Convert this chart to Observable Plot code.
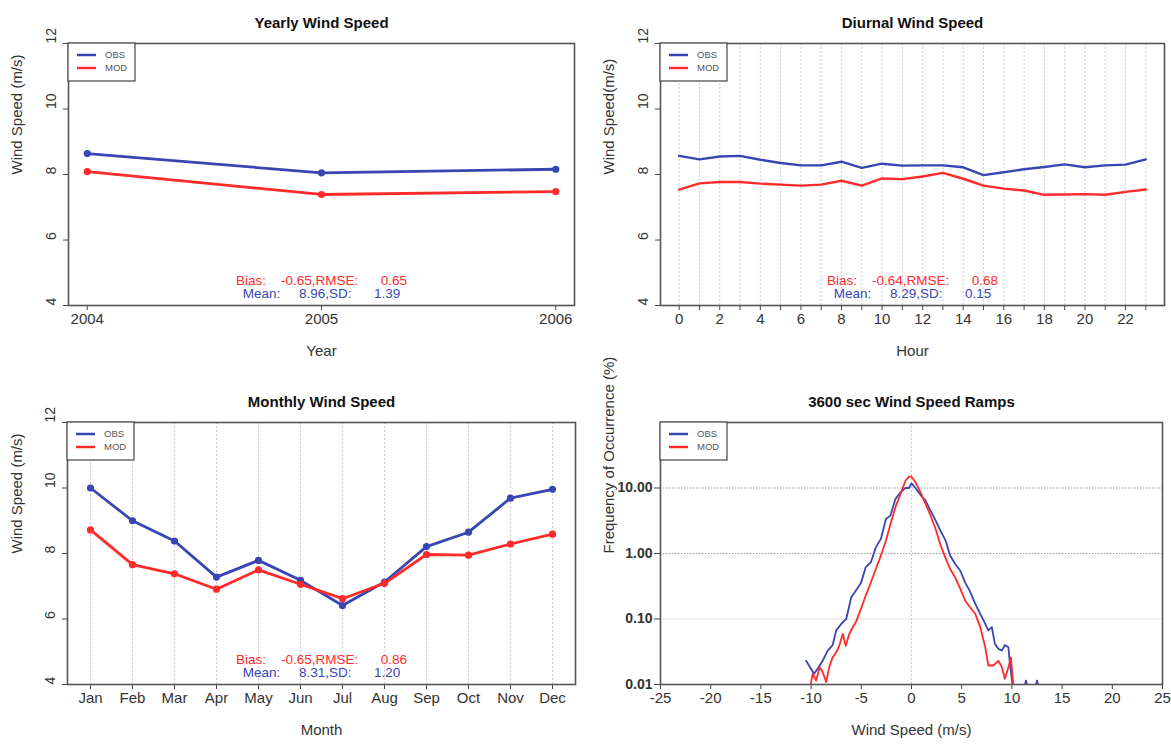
<!DOCTYPE html>
<html>
<head>
<meta charset="utf-8">
<script src="https://cdn.jsdelivr.net/npm/d3@7"></script>
<script src="https://cdn.jsdelivr.net/npm/@observablehq/plot@0.6"></script>
<style>
  body { margin: 0; background: #fff; }
  #chart { position: relative; width: 1171px; height: 746px; overflow: hidden; }
  .panel { position: absolute; }
  .panel svg text { white-space: pre; }
</style>
</head>
<body>
<div id="chart"></div>
<script>
// ---- series colours ----
const BLUE = "#3846b4";
const RED = "#ff2b2b";
const FONT = '"Liberation Sans", Arial, Helvetica, sans-serif';
const seriesNames = ["OBS", "MOD"];

// ---- yearly means ----
const years = [2004, 2005, 2006];
const yearlyObs = [8.64, 8.05, 8.16];
const yearlyMod = [8.09, 7.39, 7.48];
const yearlyStats = ["Bias:    -0.65,RMSE:      0.65", "Mean:     8.96,SD:      1.39"];

// ---- diurnal cycle ----
const hours = [0, 1, 2, 3, 4, 5, 6, 7, 8, 9, 10, 11, 12, 13, 14, 15, 16, 17, 18, 19, 20, 21, 22, 23];
const hourLabels = [0, 2, 4, 6, 8, 10, 12, 14, 16, 18, 20, 22];
const diurnalObs = [8.57, 8.46, 8.55, 8.57, 8.45, 8.35, 8.28, 8.28, 8.39, 8.20, 8.33, 8.27,
                    8.28, 8.28, 8.22, 7.98, 8.07, 8.16, 8.23, 8.31, 8.22, 8.28, 8.30, 8.46];
const diurnalMod = [7.54, 7.73, 7.77, 7.77, 7.72, 7.69, 7.66, 7.69, 7.81, 7.66, 7.88, 7.86,
                    7.94, 8.05, 7.87, 7.66, 7.57, 7.51, 7.38, 7.39, 7.40, 7.38, 7.47, 7.54];
const diurnalStats = ["Bias:    -0.64,RMSE:      0.68", "Mean:     8.29,SD:      0.15"];

// ---- monthly means ----
const months = ["Jan", "Feb", "Mar", "Apr", "May", "Jun", "Jul", "Aug", "Sep", "Oct", "Nov", "Dec"];
const monthlyObs = [10.0, 9.0, 8.38, 7.28, 7.79, 7.18, 6.41, 7.13, 8.21, 8.65, 9.69, 9.96];
const monthlyMod = [8.72, 7.66, 7.38, 6.91, 7.50, 7.06, 6.62, 7.09, 7.97, 7.95, 8.29, 8.59];
const monthlyStats = ["Bias:    -0.65,RMSE:      0.86", "Mean:     8.31,SD:      1.20"];

// ---- 3600 s ramp distribution ----
const rampObsSpeed = [-10.5, -9.7, -9.3, -8.85, -8.35, -7.85, -7.5, -7.0, -6.5, -6.0, -5.55, -5.05,
                      -4.55, -4.05, -3.55, -3.05, -2.55, -2.1, -1.6, -1.1, -0.6, -0.25, 0.0, 0.4,
                      0.9, 1.4, 1.9, 2.4, 2.9, 3.4, 3.85, 4.35, 4.85, 5.35, 5.85, 6.35, 6.85, 7.35,
                      7.65, 8.0, 8.3, 8.65, 9.0, 9.3, 9.65, 9.8, 10.05];
const rampObsFreq = [0.023, 0.0146, 0.0178, 0.023, 0.033, 0.040, 0.067, 0.084, 0.10, 0.215, 0.27, 0.35,
                     0.62, 0.73, 1.24, 1.67, 3.37, 3.79, 6.8, 8.6, 10.0, 10.0, 11.8, 10.0,
                     7.8, 6.4, 4.5, 3.2, 2.2, 1.57, 0.93, 0.69, 0.55, 0.36, 0.26, 0.17, 0.12, 0.084,
                     0.067, 0.075, 0.042, 0.035, 0.033, 0.040, 0.037, 0.021, 0.0102];
const rampModSpeed = [-10.05, -9.85, -9.5, -9.15, -8.85, -8.5, -8.2, -7.85, -7.5, -7.2, -6.85, -6.55,
                      -6.2, -5.85, -5.55, -5.05, -4.55, -4.05, -3.55, -3.05, -2.55, -2.1, -1.6, -1.1,
                      -0.6, -0.25, 0.0, 0.4, 0.9, 1.4, 1.9, 2.4, 2.85, 3.35, 3.85, 4.35, 4.85, 5.35,
                      5.85, 6.35, 6.85, 7.35, 7.65, 8.15, 8.65, 9.0, 9.3, 9.65, 9.9, 10.15];
const rampModFreq = [0.0097, 0.0146, 0.0115, 0.0184, 0.0155, 0.0109, 0.0184, 0.026, 0.031, 0.039, 0.059, 0.039,
                     0.059, 0.075, 0.089, 0.14, 0.23, 0.36, 0.58, 0.93, 1.57, 2.8, 5.1, 8.1,
                     12.9, 14.9, 14.9, 12.2, 8.6, 5.7, 3.8, 2.37, 1.4, 0.88, 0.58, 0.43, 0.29, 0.19,
                     0.15, 0.12, 0.075, 0.037, 0.0195, 0.0195, 0.023, 0.0184, 0.0122, 0.0184, 0.026, 0.0095];
// isolated blips just above the lower limit beyond +10 m/s
const rampObsTailSpeed = [11.2, 11.4, 11.6, 12.3, 12.5, 12.7];
const rampObsTailFreq = [0.0085, 0.0115, 0.0085, 0.0085, 0.0115, 0.0085];
const rampObsTailGroup = [1, 1, 1, 2, 2, 2];
const rampStats = [];

// ---- axis ticks ----
const speedTicks = [4, 6, 8, 10, 12];
const freqTicks = [0.01, 0.1, 1, 10];
const rampTicks = [-25, -20, -15, -10, -5, 0, 5, 10, 15, 20, 25];

// rows for Plot
function rows(xs, ys, series) {
  return xs.map((x, i) => ({x, y: ys[i], series}));
}
const yearlyRows = [...rows(years, yearlyObs, "OBS"), ...rows(years, yearlyMod, "MOD")];
const diurnalRows = [...rows(hours, diurnalObs, "OBS"), ...rows(hours, diurnalMod, "MOD")];
const monthlyRows = [...rows(months, monthlyObs, "OBS"), ...rows(months, monthlyMod, "MOD")];
const rampRows = [...rows(rampObsSpeed, rampObsFreq, "OBS"), ...rows(rampModSpeed, rampModFreq, "MOD")];
const rampTailRows = rampObsTailSpeed.map((x, i) => ({x, y: rampObsTailFreq[i], g: rampObsTailGroup[i]}));

const color = {domain: seriesNames, range: [BLUE, RED]};

// titles, axis titles and the bias / mean annotation shared by every panel
function decorations({title, xLabel, yLabel, stats, yLabelDx = -51}) {
  const marks = [
    Plot.text([title], {text: d => d, frameAnchor: "top", dy: -26, fontWeight: "bold", fontSize: 15, fill: "#111"}),
    Plot.text([xLabel], {text: d => d, frameAnchor: "bottom", dy: 50, fontSize: 15, fill: "#333"}),
    Plot.text([yLabel], {text: d => d, frameAnchor: "left", dx: yLabelDx, rotate: -90, fontSize: 15, fill: "#333"})
  ];
  if (stats.length) {
    marks.push(
      Plot.text([stats[0]], {text: d => d, frameAnchor: "bottom", dy: -20.5, fill: RED, fontSize: 13.5}),
      Plot.text([stats[1]], {text: d => d, frameAnchor: "bottom", dy: -7.5, fill: BLUE, fontSize: 13.5})
    );
  }
  return marks;
}

// left axis used by the three wind speed panels: ticks with upright-rotated labels
function speedAxis() {
  return [
    Plot.axisY({ticks: speedTicks, tickSize: 5, tickFormat: () => "", label: null, stroke: "#444"}),
    Plot.text(speedTicks, {y: d => d, text: d => String(d), frameAnchor: "left", dx: -17, rotate: -90, fontSize: 14, fill: "#333"})
  ];
}

const legendItems = [{label: "OBS", color: BLUE}, {label: "MOD", color: RED}];
function addLegend(svg, x0, y0) {
  const g = d3.select(svg).append("g").attr("text-anchor", "start");
  g.append("rect").attr("x", x0).attr("y", y0).attr("width", 67).attr("height", 38)
    .attr("fill", "#fff").attr("stroke", "#444").attr("stroke-width", 1.2);
  legendItems.forEach((d, i) => {
    const cy = y0 + 12 + i * 13;
    g.append("line").attr("x1", x0 + 9).attr("x2", x0 + 28).attr("y1", cy).attr("y2", cy)
      .attr("stroke", d.color).attr("stroke-width", 2.5);
    g.append("text").attr("x", x0 + 37).attr("y", cy).attr("dy", "0.35em")
      .attr("font-size", 9.5).attr("fill", "#555").attr("font-family", FONT).text(d.label);
  });
}

function place({left, top, width, height, margin, x, y, marks}) {
  const svg = Plot.plot({
    width, height,
    marginTop: margin[0], marginRight: margin[1], marginBottom: margin[2], marginLeft: margin[3],
    x, y, color,
    style: {fontFamily: FONT, fontSize: "15px", color: "#333", background: "transparent", overflow: "visible"},
    marks
  });
  addLegend(svg, margin[3], margin[0]);
  const wrap = document.createElement("div");
  wrap.className = "panel";
  wrap.style.left = left + "px";
  wrap.style.top = top + "px";
  wrap.appendChild(svg);
  document.getElementById("chart").appendChild(wrap);
}

const frame = () => Plot.frame({stroke: "#555", strokeWidth: 1.6});

// Yearly Wind Speed
place({
  left: 0, top: 0, width: 585, height: 373, margin: [43, 11, 68, 68],
  x: {domain: [2003.92, 2006.08], label: null},
  y: {domain: [4, 12], label: null},
  marks: [
    Plot.axisX({ticks: years, tickFormat: d => String(d), tickSize: 5, tickPadding: 3, label: null, stroke: "#444"}),
    ...speedAxis(),
    Plot.line(yearlyRows, {x: "x", y: "y", z: "series", stroke: "series", strokeWidth: 2.8}),
    Plot.dot(yearlyRows, {x: "x", y: "y", fill: "series", r: 3.6}),
    ...decorations({title: "Yearly Wind Speed", xLabel: "Year", yLabel: "Wind Speed (m/s)", stats: yearlyStats}),
    frame()
  ]
});

// Diurnal Wind Speed
place({
  left: 585, top: 0, width: 586, height: 373, margin: [43, 7, 68, 75],
  x: {domain: [-0.92, 23.92], label: null},
  y: {domain: [4, 12], label: null},
  marks: [
    Plot.ruleX(hours, {stroke: "#cfcfcf", strokeDasharray: "2,2", strokeWidth: 1}),
    Plot.axisX({ticks: hours, tickFormat: d => hourLabels.includes(d) ? String(d) : "", tickSize: 5, tickPadding: 3, label: null, stroke: "#444"}),
    ...speedAxis(),
    Plot.line(diurnalRows, {x: "x", y: "y", z: "series", stroke: "series", strokeWidth: 2.4}),
    ...decorations({title: "Diurnal Wind Speed", xLabel: "Hour", yLabel: "Wind Speed(m/s)", stats: diurnalStats}),
    frame()
  ]
});

// Monthly Wind Speed
place({
  left: 0, top: 373, width: 585, height: 373, margin: [49, 10, 62, 67],
  x: {type: "point", domain: months, padding: 0.44, label: null},
  y: {domain: [4, 12], label: null},
  marks: [
    Plot.ruleX(months, {stroke: "#cfcfcf", strokeDasharray: "2,2", strokeWidth: 1}),
    Plot.axisX({tickSize: 5, tickPadding: 3, label: null, stroke: "#444"}),
    ...speedAxis(),
    Plot.line(monthlyRows, {x: "x", y: "y", z: "series", stroke: "series", strokeWidth: 2.8}),
    Plot.dot(monthlyRows, {x: "x", y: "y", fill: "series", r: 3.6}),
    ...decorations({title: "Monthly Wind Speed", xLabel: "Month", yLabel: "Wind Speed (m/s)", stats: monthlyStats, yLabelDx: -50}),
    frame()
  ]
});

// 3600 sec Wind Speed Ramps
place({
  left: 585, top: 373, width: 586, height: 373, margin: [49, 9, 62, 75],
  x: {domain: [-25, 25], label: null},
  y: {type: "log", domain: [0.01, 100], label: null},
  marks: [
    Plot.ruleY([0.1], {stroke: "#e2e2e2", strokeWidth: 1}),
    Plot.ruleY([1, 10], {stroke: "#9a9a9a", strokeDasharray: "1.5,1.5", strokeWidth: 1}),
    Plot.ruleX([0], {stroke: "#c8c8c8", strokeDasharray: "2,2", strokeWidth: 1}),
    Plot.axisX({ticks: rampTicks, tickFormat: d => String(d), tickSize: 5, tickPadding: 3, label: null, stroke: "#444"}),
    Plot.axisY({ticks: freqTicks, tickFormat: d3.format(".2f"), tickSize: 6, tickPadding: 2, label: null,
                stroke: "#444", fontWeight: "bold", fontSize: 14}),
    Plot.line(rampRows, {x: "x", y: "y", z: "series", stroke: "series", strokeWidth: 1.8, clip: true}),
    Plot.line(rampTailRows, {x: "x", y: "y", z: "g", stroke: BLUE, strokeWidth: 1.8, clip: true}),
    ...decorations({title: "3600 sec Wind Speed Ramps", xLabel: "Wind Speed (m/s)", yLabel: "Frequency of Occurrence (%)", stats: rampStats}),
    frame()
  ]
});
</script>
</body>
</html>
